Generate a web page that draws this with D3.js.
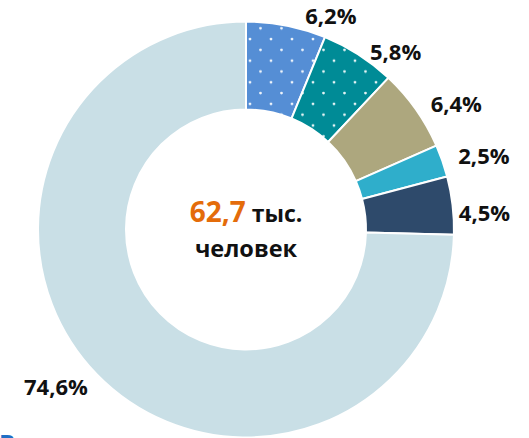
<!DOCTYPE html>
<html>
<head>
<meta charset="utf-8">
<script src="https://cdn.jsdelivr.net/npm/d3@7"></script>
<style>
  body { margin: 0; background: #fff; }
  svg { display: block; font-family: "Open Sans", "Noto Sans", sans-serif; }
</style>
</head>
<body>
<div id="chart"></div>
<script>
// data
const shares = [6.2, 5.8, 6.4, 2.5, 4.5, 74.6];
const shareLabels = ["6,2%", "5,8%", "6,4%", "2,5%", "4,5%", "74,6%"];
const totalValue = "62,7";
const totalUnit = "тыс.";
const totalUnit2 = "человек";

// look
const colors = ["#558ed5", "#008b96", "#ada77e", "#2faecb", "#2e4a6b", "#c9dfe6"];
const dotted = [true, true, false, false, false, false];
// hand-moved labels: angle nudge (deg) and distance from centre
const labelNudge = [10.5, 7.4, 4.4, 2.1, 2.7, 4.6];
const labelDist = [230, 232, 245, 249, 239, 247];

const width = 529, height = 438;
const cx = 246, cy = 229.5;
const outerR = 208, innerR = 120;

const svg = d3.select("#chart").append("svg")
    .attr("width", width)
    .attr("height", height);

// white dot pattern for the first two slices
const defs = svg.append("defs");
colors.forEach((c, i) => {
  if (!dotted[i]) return;
  const p = defs.append("pattern")
      .attr("id", "dots" + i)
      .attr("patternUnits", "userSpaceOnUse")
      .attr("width", 21)
      .attr("height", 21.6);
  p.append("rect").attr("width", 21).attr("height", 21.6).attr("fill", c);
  p.append("circle").attr("cx", 4).attr("cy", 4).attr("r", 1.4).attr("fill", "#fff").attr("opacity", 0.9);
  p.append("circle").attr("cx", 14.5).attr("cy", 14.8).attr("r", 1.4).attr("fill", "#fff").attr("opacity", 0.9);
});

const pie = d3.pie().sort(null).value(d => d);
const arcs = pie(shares);

const arc = d3.arc().innerRadius(innerR).outerRadius(outerR);

const g = svg.append("g").attr("transform", `translate(${cx},${cy})`);

g.selectAll("path.slice")
  .data(arcs)
  .join("path")
    .attr("class", "slice")
    .attr("d", arc)
    .attr("fill", (d, i) => dotted[i] ? `url(#dots${i})` : colors[i])
    .attr("stroke", "#fff")
    .attr("stroke-width", 2)
    .attr("stroke-linejoin", "round");

g.selectAll("text.pct")
  .data(arcs)
  .join("text")
    .attr("class", "pct")
    .attr("transform", (d, i) => {
      const a = (d.startAngle + d.endAngle) / 2 + labelNudge[i] * Math.PI / 180;
      const r = labelDist[i];
      return `translate(${r * Math.sin(a)},${-r * Math.cos(a)})`;
    })
    .attr("text-anchor", "middle")
    .attr("dy", "0.36em")
    .attr("font-size", 22)
    .attr("font-weight", "bold")
    .attr("fill", "#111")
    .text((d, i) => shareLabels[i]);

// centre caption
const t1 = g.append("text")
    .attr("text-anchor", "middle")
    .attr("y", -7.5)
    .attr("font-weight", "bold");
t1.append("tspan").attr("fill", "#e46c0a").attr("font-size", 28).text(totalValue);
t1.append("tspan").attr("fill", "#111").attr("font-size", 23).text(" " + totalUnit);

g.append("text")
    .attr("text-anchor", "middle")
    .attr("y", 27.5)
    .attr("font-size", 23.5)
    .attr("font-weight", "bold")
    .attr("fill", "#111")
    .text(totalUnit2);

// start of the next caption, cut off by the frame
svg.append("text")
    .attr("x", -1)
    .attr("y", 452)
    .attr("font-size", 24)
    .attr("font-weight", "bold")
    .attr("fill", "#1f6fc5")
    .text("В");
</script>
</body>
</html>
